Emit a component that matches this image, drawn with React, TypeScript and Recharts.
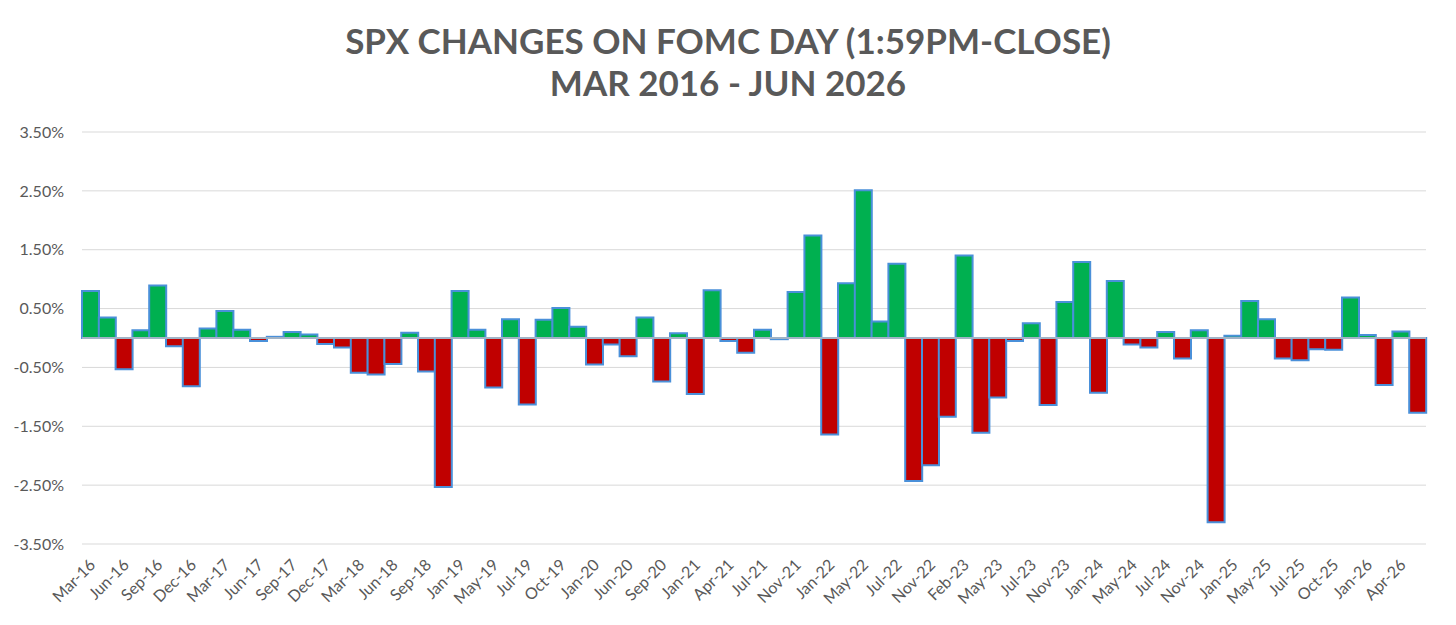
import React from "react";
import { BarChart, Bar, XAxis, YAxis, CartesianGrid, Cell, ReferenceLine } from "recharts";

// FOMC meeting months (every other one is labelled on the axis)
const meetings = [
  "Mar-16", "Apr-16", "Jun-16", "Jul-16", "Sep-16", "Nov-16", "Dec-16", "Feb-17",
  "Mar-17", "May-17", "Jun-17", "Jul-17", "Sep-17", "Nov-17", "Dec-17", "Jan-18",
  "Mar-18", "May-18", "Jun-18", "Aug-18", "Sep-18", "Dec-18", "Jan-19", "Mar-19",
  "May-19", "Jun-19", "Jul-19", "Sep-19", "Oct-19", "Dec-19", "Jan-20", "Apr-20",
  "Jun-20", "Jul-20", "Sep-20", "Dec-20", "Jan-21", "Mar-21", "Apr-21", "Jun-21",
  "Jul-21", "Sep-21", "Nov-21", "Dec-21", "Jan-22", "Mar-22", "May-22", "Jun-22",
  "Jul-22", "Sep-22", "Nov-22", "Dec-22", "Feb-23", "Mar-23", "May-23", "Jun-23",
  "Jul-23", "Sep-23", "Nov-23", "Dec-23", "Jan-24", "Mar-24", "May-24", "Jun-24",
  "Jul-24", "Sep-24", "Nov-24", "Dec-24", "Jan-25", "Mar-25", "May-25", "Jun-25",
  "Jul-25", "Sep-25", "Oct-25", "Dec-25", "Jan-26", "Mar-26", "Apr-26", "Jun-26",
];

// SPX % change from 1:59pm to the close
const changes = [
  0.8, 0.35, -0.53, 0.13, 0.89, -0.14, -0.82, 0.16,
  0.46, 0.14, -0.05, 0.02, 0.1, 0.06, -0.1, -0.16,
  -0.59, -0.62, -0.44, 0.09, -0.57, -2.53, 0.8, 0.14,
  -0.84, 0.32, -1.13, 0.31, 0.51, 0.19, -0.45, -0.11,
  -0.31, 0.35, -0.74, 0.08, -0.95, 0.81, -0.05, -0.25,
  0.14, -0.02, 0.78, 1.74, -1.64, 0.93, 2.51, 0.28,
  1.26, -2.43, -2.16, -1.34, 1.4, -1.61, -1.01, -0.05,
  0.25, -1.14, 0.61, 1.29, -0.93, 0.97, -0.11, -0.16,
  0.1, -0.35, 0.13, -3.13, 0.04, 0.63, 0.32, -0.35,
  -0.38, -0.19, -0.2, 0.69, 0.05, -0.8, 0.11, -1.27,
];

const yTicks = [-3.5, -2.5, -1.5, -0.5, 0.5, 1.5, 2.5, 3.5];

const titleLines = ["SPX CHANGES ON FOMC DAY (1:59PM-CLOSE)", "MAR 2016 - JUN 2026"];

const UP = "#00B050";
const DOWN = "#C00000";
const EDGE = "#4A90D9";
const INK = "#595959";
const FONT = "Lato, 'Open Sans', sans-serif";

const data = meetings.map((m, i) => ({ meeting: m, change: changes[i] }));

const DateTick = (props: any) => {
  const { x, y, payload } = props;
  return (
    <g transform={`translate(${x + 6},${y + 22})`}>
      <text textAnchor="end" transform="rotate(-45)" fill={INK} fontSize={16} fontFamily={FONT}>
        {payload.value}
      </text>
    </g>
  );
};

export default function App() {
  return (
    <div style={{ position: "relative", width: 1440, height: 609, fontFamily: FONT }}>
      <svg width={1440} height={110} style={{ position: "absolute", left: 0, top: 0 }}>
        {titleLines.map((line, i) => (
          <text
            key={line}
            x={720}
            y={46 + i * 42}
            textAnchor="middle"
            fill={INK}
            fontSize={35}
            fontWeight={700}
            fontFamily={FONT}
          >
            {line}
          </text>
        ))}
      </svg>
      <BarChart
        width={1440}
        height={609}
        data={data}
        barCategoryGap={0}
        margin={{ top: 124, right: 22, left: 0, bottom: 13 }}
      >
        <CartesianGrid vertical={false} stroke="#D9D9D9" />
        <XAxis
          dataKey="meeting"
          interval={1}
          tick={<DateTick />}
          tickLine={false}
          axisLine={false}
          tickSize={0}
          tickMargin={0}
          height={60}
        />
        <YAxis
          domain={[-3.5, 3.5]}
          ticks={yTicks}
          tickFormatter={(v: number) => `${v.toFixed(2)}%`}
          tick={{ fill: INK, fontSize: 16, fontFamily: FONT }}
          tickLine={false}
          axisLine={false}
          tickSize={0}
          tickMargin={18}
          width={74}
        />
        <Bar dataKey="change" stroke={EDGE} strokeWidth={2} isAnimationActive={false}>
          {data.map((d) => (
            <Cell key={d.meeting} fill={d.change >= 0 ? UP : DOWN} />
          ))}
        </Bar>
        <ReferenceLine y={0} stroke="#BFBFBF" strokeWidth={1.5} />
      </BarChart>
    </div>
  );
}
